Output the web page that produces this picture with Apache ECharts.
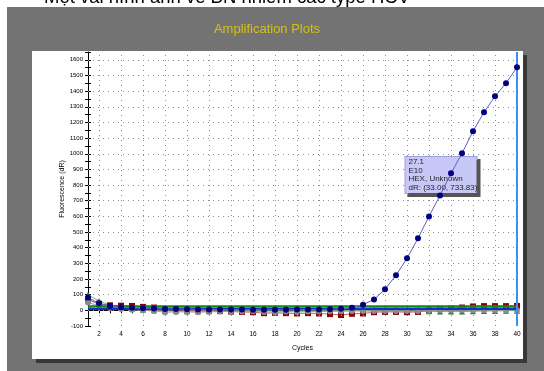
<!DOCTYPE html>
<html>
<head>
<meta charset="utf-8">
<script src="https://cdn.jsdelivr.net/npm/echarts@6/dist/echarts.min.js"></script>
<style>
html,body{margin:0;padding:0;background:#fff;}
#c{width:544px;height:371px;}
</style>
</head>
<body>
<div id="c"></div>
<script>
var cycles = [1,2,3,4,5,6,7,8,9,10,11,12,13,14,15,16,17,18,19,20,21,22,23,24,25,26,27,28,29,30,31,32,33,34,35,36,37,38,39,40];
var hexSample = [82,45,28,20,16,13,11,9,8,7,6,6,5,5,5,4,4,4,4,5,5,6,7,10,16,36,70,134,224,332,460,600,733.83,875,1003,1144,1265,1367,1450,1553];
var redWell = [68,42,32,30,28,22,18,8,4,0,-2,-4,-5,-8,-10,-12,-18,-16,-18,-20,-18,-20,-24,-30,-22,-20,-12,-10,-10,-12,-10,0,10,12,18,25,27,27,27,28];
var grayWell = [50,28,14,8,4,0,-4,-12,-10,-10,-12,-10,-8,-8,-8,-6,-10,-12,-8,-10,-8,-8,-6,-6,-4,-4,-4,-4,-4,-4,-4,-2,0,0,0,0,0,0,0,0];
var greenWell = [100,60,34,18,10,4,0,-4,-4,-6,-6,-4,-4,-4,-2,-2,-4,-4,-4,-4,-4,-4,-2,-2,-2,-2,-4,-4,-4,-6,-6,-6,-8,-8,-8,-6,-4,-4,-2,-2];
var lavWell = [75,35,20,14,10,8,6,6,5,5,5,5,4,4,4,4,4,4,4,4,4,4,4,4,4,4,4,4,4,4,5,5,6,6,6,7,8,8,8,9];
var yTicks = [-100,0,100,200,300,400,500,600,700,800,900,1000,1100,1200,1300,1400,1500,1600];
var xTicks = [2,4,6,8,10,12,14,16,18,20,22,24,26,28,30,32,34,36,38,40];
var greenThreshold = 25;
var blueThreshold = 12;
var cursorCycle = 40;
var tipPoint = [33, 733.83];
var tipLines = ['27.1', 'E10', 'HEX, Unknown', 'dR: (33.00, 733.83)'];

function pairs(vals){ return cycles.map(function(c,i){ return [c, vals[i]]; }); }

var FONT = 'Liberation Sans, Arial, sans-serif';
var chart = echarts.init(document.getElementById('c'), null, {renderer:'canvas'});

var hGrid = yTicks.filter(function(v){return v > -100;}).map(function(v){ return {yAxis: v}; });
var vGrid = xTicks.filter(function(v){return v < 40;}).map(function(v){ return {xAxis: v}; });

var axCommonY = {
  type:'value', min:-100, max:1650, interval:50, position:'left'
};
var axCommonX = {
  type:'value', min:1, max:40, interval:1, position:'bottom'
};

chart.setOption({
  animation:false,
  textStyle:{fontFamily:FONT},
  graphic:[
    {type:'text', z:0, style:{text:'Một vài hình ảnh về BN nhiễm các type HCV', x:227, y:-12, align:'center', verticalAlign:'top', font:'18.5px ' + FONT, fill:'#000'}},
    {type:'rect', z:0, shape:{x:7, y:7, width:540, height:370}, style:{fill:'#737373'}},
    {type:'rect', z:0, shape:{x:36, y:55, width:491, height:308}, style:{fill:'#383838'}},
    {type:'rect', z:0, shape:{x:32, y:51, width:491, height:308}, style:{fill:'#ffffff'}},
    {type:'text', z:0, style:{text:'Amplification Plots', x:267, y:29, align:'center', verticalAlign:'middle', font:'13px ' + FONT, fill:'#d8c010'}}
  ],
  grid:{left:88, right:27, top:52, bottom:45},
  xAxis:[
    Object.assign({}, axCommonX, {
      name:'Cycles', nameLocation:'middle', nameGap:19, nameMoveOverlap:false,
      nameTextStyle:{fontSize:7, color:'#000', fontFamily:FONT},
      axisLine:{show:true, lineStyle:{color:'#000', width:1}},
      axisTick:{show:true, inside:false, length:3, lineStyle:{color:'#000'}},
      axisLabel:{show:true, margin:5, fontSize:6.5, color:'#000', fontFamily:FONT,
        formatter:function(v){ return xTicks.indexOf(v) >= 0 ? String(v) : ''; }},
      splitLine:{show:false}
    }),
    Object.assign({}, axCommonX, {
      axisLine:{show:false},
      axisTick:{show:true, inside:true, length:3, lineStyle:{color:'#000'}},
      axisLabel:{show:false}, splitLine:{show:false}
    })
  ],
  yAxis:[
    Object.assign({}, axCommonY, {
      name:'Fluorescence (dR)', nameLocation:'middle', nameGap:22, nameMoveOverlap:false,
      nameTextStyle:{fontSize:7, color:'#000', fontFamily:FONT},
      axisLine:{show:true, lineStyle:{color:'#000', width:1}},
      axisTick:{show:true, inside:false, length:3, lineStyle:{color:'#000'}},
      axisLabel:{show:true, margin:5, fontSize:6, color:'#000', fontFamily:FONT,
        formatter:function(v){ return yTicks.indexOf(v) >= 0 ? String(v) : ''; }},
      splitLine:{show:false}
    }),
    Object.assign({}, axCommonY, {
      axisLine:{show:false},
      axisTick:{show:true, inside:true, length:3, lineStyle:{color:'#000'}},
      axisLabel:{show:false}, splitLine:{show:false}
    })
  ],
  series:[
    {
      type:'line', name:'grid', data:[], silent:true,
      markLine:{silent:true, symbol:['none','none'], label:{show:false}, animation:false,
        lineStyle:{color:'#8c8c8c', type:[1,4], width:1},
        data: hGrid.concat(vGrid)}
    },
    {
      type:'line', name:'lav', data:pairs(lavWell), z:3,
      symbol:'circle', symbolSize:4, showSymbol:true,
      lineStyle:{color:'#a8a8f0', width:1}, itemStyle:{color:'#b0b0f0'}
    },
    {
      type:'line', name:'green', data:pairs(greenWell), z:3,
      symbol:'triangle', symbolSize:6,
      lineStyle:{color:'#70b870', width:1}, itemStyle:{color:'#1a8a1a'}
    },
    {
      type:'line', name:'red', data:pairs(redWell), z:4,
      symbol:'rect', symbolSize:6,
      lineStyle:{color:'#c86060', width:1}, itemStyle:{color:'#8b0000'}
    },
    {
      type:'line', name:'gray', data:pairs(grayWell), z:4,
      symbol:'circle', symbolSize:6,
      lineStyle:{color:'#a0a0a0', width:1}, itemStyle:{color:'#8c8c8c'}
    },
    {
      type:'line', name:'thresholds', data:[], z:5,
      markLine:{silent:true, symbol:['none','none'], label:{show:false}, animation:false,
        data:[
          {yAxis:blueThreshold, lineStyle:{color:'#1030d0', width:2, type:'solid'}},
          {yAxis:greenThreshold, lineStyle:{color:'#108a10', width:2.5, type:'solid'}},
          {xAxis:cursorCycle, lineStyle:{color:'#3a90f0', width:2, type:'solid'}}
        ]}
    },
    {
      type:'line', name:'HEX', data:pairs(hexSample), z:6,
      symbol:'circle', symbolSize:6,
      lineStyle:{color:'#6060c0', width:1}, itemStyle:{color:'#000080'},
      markPoint:{
        symbol:'circle', symbolSize:1, itemStyle:{color:'rgba(0,0,0,0)'},
        data:[{coord:tipPoint}],
        label:{show:true, position:[-34,-38], align:'left', verticalAlign:'top',
          formatter: tipLines.join('\n'),
          fontSize:8, lineHeight:8.5, color:'#222', fontFamily:FONT,
          backgroundColor:'#c8c8f8', borderColor:'#a0a0d8', borderWidth:1,
          padding:[1,3,1,3], width:65,
          shadowColor:'#555', shadowOffsetX:3, shadowOffsetY:3, shadowBlur:0}
      }
    }
  ]
});
</script>
</body>
</html>
